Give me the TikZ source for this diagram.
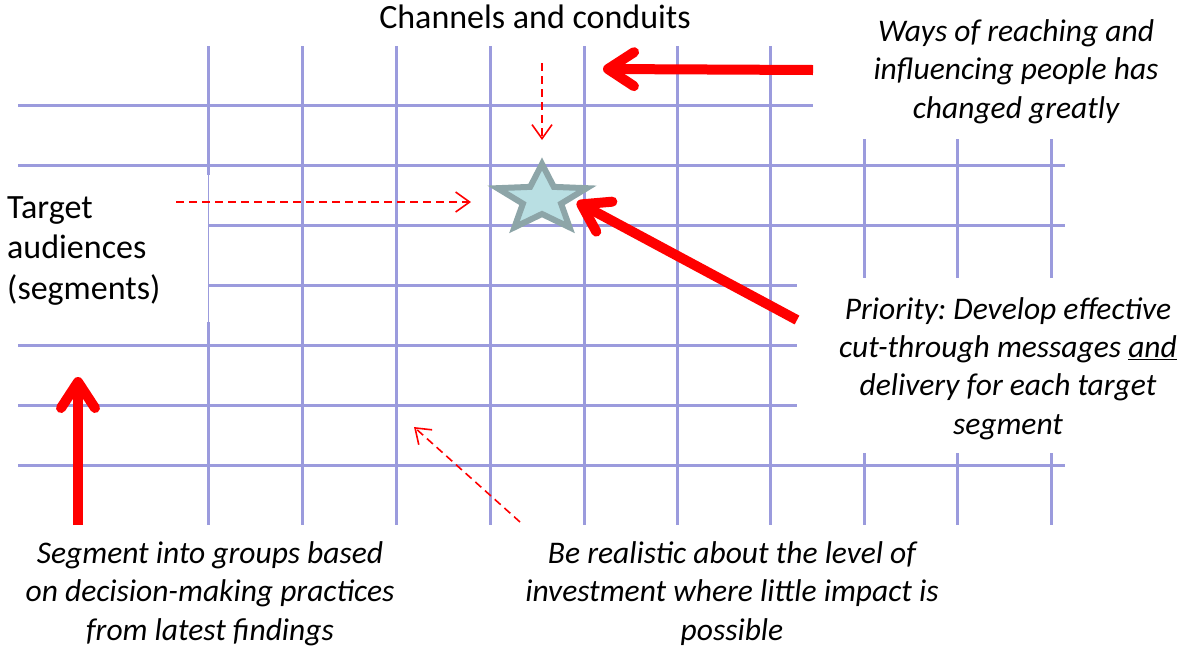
\documentclass[tikz,border=0pt]{standalone}
\usepackage{fontspec}
\setmainfont{Carlito}
\usetikzlibrary{arrows.meta}
\frenchspacing
\definecolor{gridblue}{RGB}{155,155,221}
\definecolor{starfill}{RGB}{185,223,227}
\definecolor{staredge}{RGB}{141,165,168}
\tikzset{gridline/.style={draw=gridblue, line width=3pt},
  gridthin/.style={draw=gridblue, line width=1pt},
  bigarrow/.style={draw=red, line width=10pt,
    -{Straight Barb[length=26pt, width=34pt, round]}},
  hintarrow/.style={draw=red, line width=1.6pt, dash pattern=on 8pt off 5pt,
    -{Straight Barb[length=14pt, width=20pt]}},
  lbl/.style={inner sep=0pt, font=\fontsize{34}{40.5}\selectfont},
  note/.style={inner sep=0pt, align=center,
    font=\fontsize{31.5}{38.3}\selectfont\itshape}}

\begin{document}
\begin{tikzpicture}[x=1pt, y=-1pt,
  starshape/.style={fill=starfill, draw=staredge, line width=6pt}]
  \useasboundingbox (0,0) rectangle (1182,646);
  % Grid: horizontal lines
  \foreach \y/\xa/\xb in {105/18/813, 165/18/1065, 225/208/1065,
      285/208/797, 345/18/797, 405/18/797, 465/18/1065}
    \draw[gridline] (\xa,\y) -- (\xb,\y);
  % Grid: vertical lines
  \foreach \x in {302,396,490,584,677,770}
    \draw[gridline] (\x,46) -- (\x,525);
  \foreach \x in {864,957,1051} {
    \draw[gridline] (\x,139) -- (\x,278);
    \draw[gridline] (\x,453) -- (\x,525);
  }
  \draw[gridline] (208,46) -- (208,175);
  \draw[gridthin] (208,175) -- (208,322);
  \draw[gridline] (208,322) -- (208,525);
  % Star
  \coordinate (star) at (542,199);
  \begin{scope}[shift={(star)}, xscale=1.34]
    \draw[starshape] (-90:35) \foreach \k in {0,...,3}
      { -- ({-54+72*\k}:15) -- ({-18+72*\k}:35) } -- (234:15) -- cycle;
  \end{scope}
  % Labels (base = last line)
  \node[lbl, anchor=base] (chan) at (535,28) {Channels and conduits};
  \node[lbl, anchor=base west, align=left] (aud) at (7,299)
    {Target\\audiences\\(segments)};
  \node[note, anchor=base] (ways) at (1016,118)
    {Ways of reaching and\\influencing people has\\changed greatly};
  \node[note, anchor=base] (prio) at (1008,434)
    {Priority: Develop effective\\cut-through messages \underline{and}\\
     delivery for each target\\segment};
  \node[note, anchor=base] (seg) at (210,640)
    {Segment into groups based\\on decision-making practices\\
     from latest findings};
  \node[note, anchor=base] (real) at (732,640)
    {Be realistic about the level of\\investment where little impact is\\
     possible};
  % Arrow ends
  \coordinate (waystail) at (813,70);
  \coordinate (chantip) at (603,69);
  \coordinate (priotail) at (797,320);
  \coordinate (startip) at (577,202);
  \coordinate (segtail) at (78,525);
  \coordinate (segtip) at (78,377);
  \coordinate (chanhint) at (542,63);
  \coordinate (chanend) at (542,140);
  \coordinate (audhint) at (176,202);
  \coordinate (audend) at (471,202);
  \coordinate (realhint) at (520,522);
  \coordinate (realend) at (414,427);
  % Thick arrows
  \draw[bigarrow] (waystail) -- (chantip);
  \draw[bigarrow] (priotail) -- (startip);
  \draw[bigarrow] (segtail) -- (segtip);
  % Dashed pointers
  \draw[hintarrow] (chanhint) -- (chanend);
  \draw[hintarrow] (audhint) -- (audend);
  \draw[hintarrow] (realhint) -- (realend);
\end{tikzpicture}
\end{document}
